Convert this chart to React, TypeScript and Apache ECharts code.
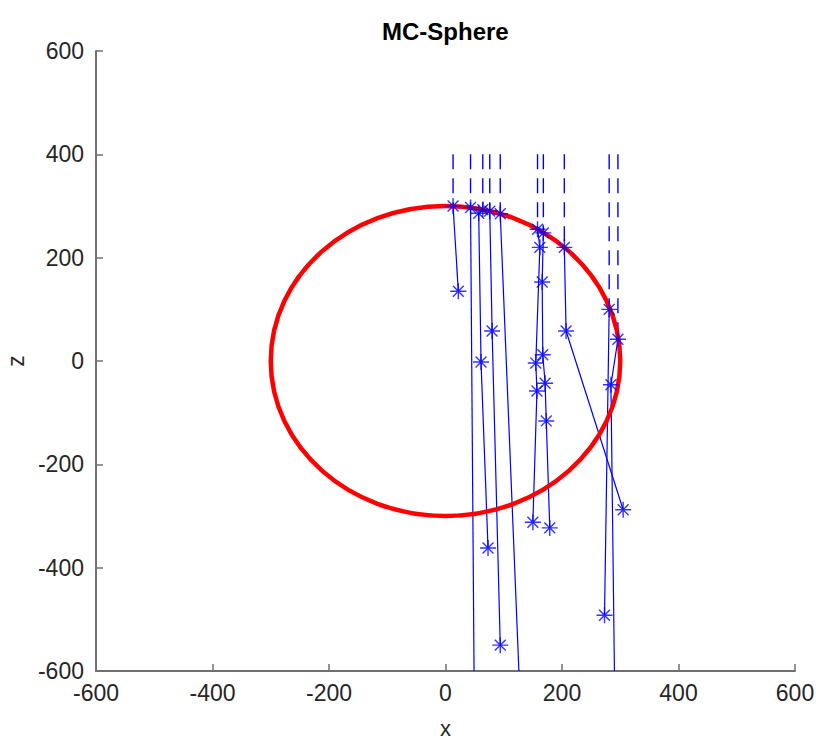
import React, { useEffect, useRef } from "react";
import * as echarts from "echarts";

const chartTitle = "MC-Sphere";
const xTicks = [-600, -400, -200, 0, 200, 400, 600];
const zTicks = [-600, -400, -200, 0, 200, 400, 600];
const sphereCenter = [0, 0];
const sphereRadius = 300;
const sourceZ = 400;

// photon tracks: entry point on the sphere first, then interaction points
const trackA_x = [13, 22];
const trackA_z = [300, 135];
const trackB_x = [43, 49];
const trackB_z = [297, -600];
const trackC_x = [64, 57, 61, 73];
const trackC_z = [293, 286, -2, -362];
const trackD_x = [76, 80, 94];
const trackD_z = [290, 58, -550];
const trackE_x = [94, 126];
const trackE_z = [285, -600];
const trackF_x = [158, 162, 155, 157, 150];
const trackF_z = [255, 220, -4, -58, -312];
const trackG_x = [168, 166, 167, 171, 173, 179];
const trackG_z = [248, 153, 12, -43, -116, -323];
const trackH_x = [204, 207, 305];
const trackH_z = [220, 58, -288];
const trackI_x = [281, 273];
const trackI_z = [100, -492];
const trackJ_x = [296, 284, 290];
const trackJ_z = [42, -46, -600];
// whether the last point of the track is where it leaves the plot (no marker)
const trackLeaves = [false, true, false, false, true, false, false, false, false, true];

const tracksX = [trackA_x, trackB_x, trackC_x, trackD_x, trackE_x, trackF_x, trackG_x, trackH_x, trackI_x, trackJ_x];
const tracksZ = [trackA_z, trackB_z, trackC_z, trackD_z, trackE_z, trackF_z, trackG_z, trackH_z, trackI_z, trackJ_z];

const BLUE = "#0000ff";
const RED = "#ff0000";
const AXIS = "#707070";
const TEXT = "#262626";
const FONT = "'Liberation Sans', Arial, Helvetica, sans-serif";
const ASTERISK = "path://M0,5L10,5M5,0L5,10M1.6,1.6L8.4,8.4M1.6,8.4L8.4,1.6";

export default function App() {
  const ref = useRef<HTMLDivElement>(null);

  useEffect(() => {
    if (!ref.current) return;
    const chart = echarts.init(ref.current, null, { renderer: "svg" });

    const series: any[] = [];
    const markers: number[][] = [];

    tracksX.forEach((xs, i) => {
      const zs = tracksZ[i];
      series.push({
        type: "line",
        data: [
          [xs[0], sourceZ],
          [xs[0], zs[0]],
        ],
        showSymbol: false,
        symbol: "none",
        lineStyle: { color: BLUE, width: 1.4, type: [15, 9] },
        z: 1,
        silent: true,
      });
      series.push({
        type: "line",
        data: xs.map((x, k) => [x, zs[k]]),
        showSymbol: false,
        symbol: "none",
        lineStyle: { color: BLUE, width: 1.2 },
        z: 1,
        silent: true,
      });
      const n = trackLeaves[i] ? xs.length - 1 : xs.length;
      for (let k = 0; k < n; k++) markers.push([xs[k], zs[k]]);
    });

    series.push({
      type: "custom",
      data: [[sphereCenter[0], sphereCenter[1], sphereRadius]],
      encode: { x: 0, y: 1 },
      z: 2,
      silent: true,
      renderItem: (params: any, api: any) => {
        const c = api.coord([api.value(0), api.value(1)]);
        const s = api.size([api.value(2), api.value(2)]);
        return {
          type: "ellipse",
          shape: { cx: c[0], cy: c[1], rx: s[0], ry: s[1] },
          style: { fill: "none", stroke: RED, lineWidth: 4.5 },
        };
      },
    });

    series.push({
      type: "scatter",
      data: markers,
      symbol: ASTERISK,
      symbolSize: 16,
      itemStyle: { color: "transparent", borderColor: BLUE, borderWidth: 1.4 },
      z: 3,
      silent: true,
    });

    chart.setOption({
      animation: false,
      backgroundColor: "#ffffff",
      title: {
        text: chartTitle,
        left: 377,
        top: 14,
        textStyle: { fontFamily: FONT, fontSize: 24, fontWeight: "bold", color: "#000000" },
      },
      grid: { left: 96, right: 21, top: 51, bottom: 72, containLabel: false, outerBoundsMode: "none" },
      xAxis: {
        type: "value",
        min: xTicks[0],
        max: xTicks[xTicks.length - 1],
        interval: xTicks[1] - xTicks[0],
        name: "x",
        nameLocation: "middle",
        nameGap: 46,
        nameTextStyle: { fontFamily: FONT, fontSize: 22, color: TEXT, lineHeight: 22 },
        axisLine: { show: true, onZero: false, lineStyle: { color: AXIS, width: 2 } },
        axisTick: { show: true, inside: true, length: 7, lineStyle: { color: AXIS, width: 1.5 } },
        axisLabel: { fontFamily: FONT, fontSize: 23, color: TEXT, margin: 10 },
        splitLine: { show: false },
      },
      yAxis: {
        type: "value",
        min: zTicks[0],
        max: zTicks[zTicks.length - 1],
        interval: zTicks[1] - zTicks[0],
        name: "z",
        nameLocation: "middle",
        nameGap: 64,
        nameTextStyle: { fontFamily: FONT, fontSize: 23, color: TEXT },
        axisLine: { show: true, onZero: false, lineStyle: { color: AXIS, width: 2 } },
        axisTick: { show: true, inside: true, length: 7, lineStyle: { color: AXIS, width: 1.5 } },
        axisLabel: { fontFamily: FONT, fontSize: 23, color: TEXT, margin: 12 },
        splitLine: { show: false },
      },
      series,
    });

    return () => chart.dispose();
  }, []);

  return (
    <div
      ref={ref}
      style={{ position: "fixed", left: 0, top: 0, width: 816, height: 743, background: "#fff" }}
    />
  );
}
